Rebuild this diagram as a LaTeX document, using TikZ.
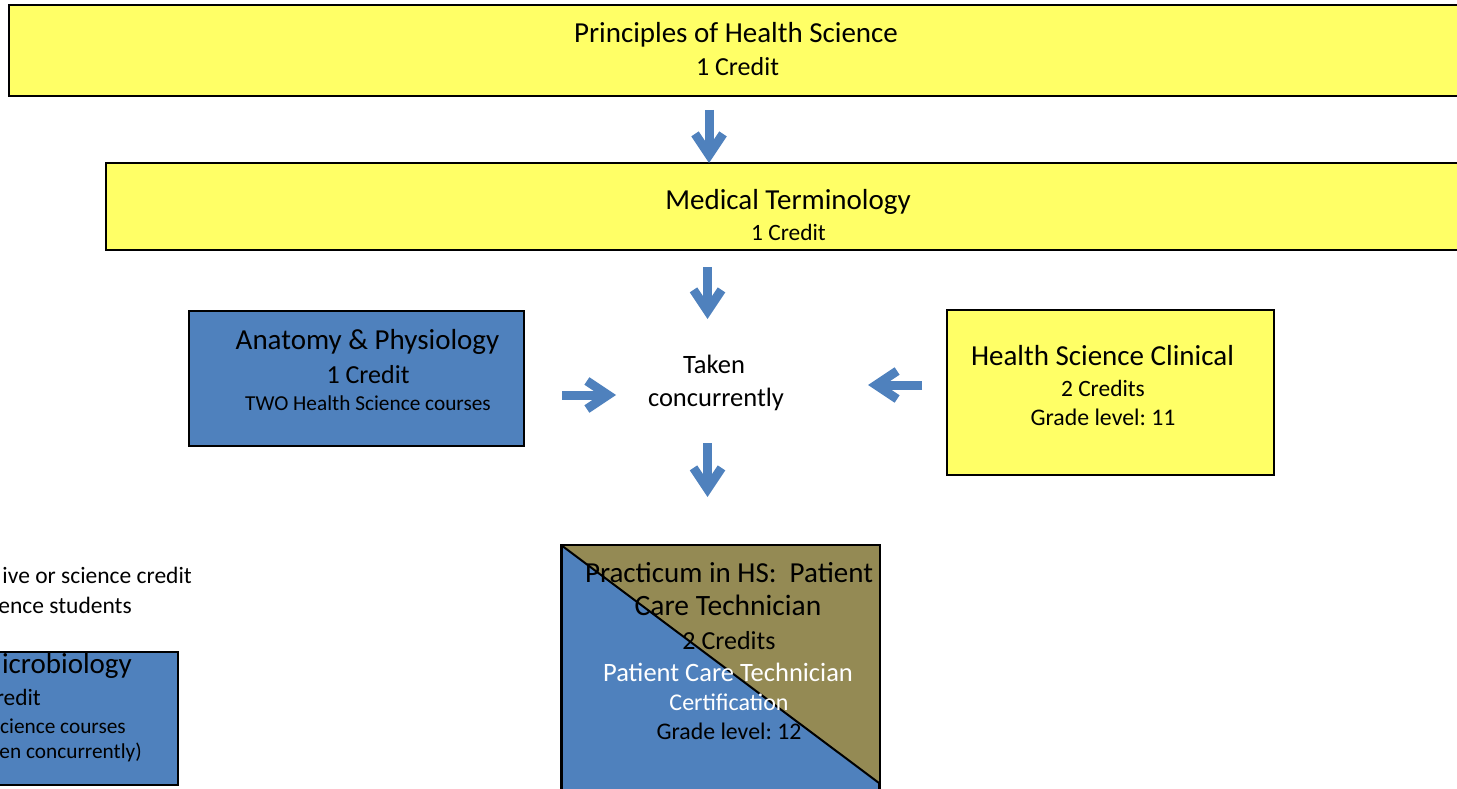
\documentclass[tikz,border=0pt]{standalone}
\usepackage{fontspec}
\setmainfont{Carlito}
\usetikzlibrary{arrows.meta,positioning}
\definecolor{hsyellow}{RGB}{255,255,102}
\definecolor{hsblue}{RGB}{79,129,189}
\definecolor{hsolive}{RGB}{148,138,84}
\newcommand{\fsz}[1]{\fontsize{#1}{#1}\selectfont}
\frenchspacing

\begin{document}
\begin{tikzpicture}[x=1pt,y=-1pt,
  box/.style={draw=black,line width=2pt,inner sep=0pt},
  txt/.style={anchor=base,inner sep=0pt},
  txtr/.style={anchor=base east,inner sep=0pt},
  flow/.style={draw=hsblue,line width=9pt,-{Straight Barb[length=21pt,width=28pt]}}]
\useasboundingbox (0,0) rectangle (1457,789);
\clip (0,0) rectangle (1457,789);
% Boxes
\node[box,fill=hsyellow,minimum width=1471,minimum height=91] (phs) at (744.5,50.5) {};
\node[box,fill=hsyellow,minimum width=1374,minimum height=87] (mt) at (793,206.5) {};
\node[box,fill=hsblue,minimum width=335,minimum height=135] (anat) at (356.5,378.5) {};
\node[box,fill=hsyellow,minimum width=327,minimum height=165] (clin) at (1110.5,392.5) {};
\node[box,fill=hsblue,minimum width=378,minimum height=133] (micro) at (-11,718.5) {};
% Practicum box, split on the diagonal
\node[box,fill=hsblue,minimum width=317,minimum height=254] (prac) at (720.5,673) {};
\coordinate (diag) at (879,783);
\fill[hsolive] (prac.north west) -- (prac.north east) -- (diag) -- cycle;
\draw[line width=2pt] (prac.north west) -- (diag);
\draw[line width=2pt] (prac.north west) rectangle (prac.south east);
% Texts
\node[txt,font=\fsz{29}] (phsname) at (736,43) {Principles of Health Science};
\node[txt,font=\fsz{26}] (phscr) at (737.5,76) {1 Credit};
\node[txt,font=\fsz{29}] (mtname) at (788,209) {Medical Terminology};
\node[txt,font=\fsz{23.4}] (mtcr) at (788.5,240) {1 Credit};
\node[txt,font=\fsz{29}] (anatname) at (367.5,349) {Anatomy \& Physiology};
\node[txt,font=\fsz{26}] (anatcr) at (368,383) {1 Credit};
\node[txt,font=\fsz{21.3}] (anatreq) at (368,410) {TWO Health Science courses};
\node[txt,font=\fsz{26.5}] (taken) at (714,373) {Taken};
\node[txt,font=\fsz{26.5}] (concur) at (716,406) {concurrently};
\node[txt,font=\fsz{29}] (clinname) at (1102.5,365) {Health Science Clinical};
\node[txt,font=\fsz{23.4}] (clincr) at (1103,396) {2 Credits};
\node[txt,font=\fsz{23.8}] (clingr) at (1103,425) {Grade level: 11};
\node[txt,font=\fsz{29}] (pracname) at (729,582) {Practicum in HS:\ \ Patient};
\node[txt,font=\fsz{29.5}] (pracname2) at (728,615) {Care Technician};
\node[txt,font=\fsz{26}] (praccr) at (729,649) {2 Credits};
\node[txt,font=\fsz{26.5},text=white] (praccert) at (728,681) {Patient Care Technician};
\node[txt,font=\fsz{24},text=white] (praccert2) at (729,710) {Certification};
\node[txt,font=\fsz{23.8}] (pracgr) at (729,739) {Grade level: 12};
% Cut-off texts at the left edge
\node[txtr,font=\fsz{23.5}] (note1) at (192,583) {ive or science credit};
\node[txtr,font=\fsz{23.5}] (note2) at (132,613) {ence students};
\node[txtr,font=\fsz{29}] (microname) at (132,673) {icrobiology};
\node[txtr,font=\fsz{23.4}] (microcr) at (41,705) {redit};
\node[txtr,font=\fsz{21.3}] (microreq) at (126,733) {cience courses};
\node[txtr,font=\fsz{21.3}] (microreq2) at (142,758) {en concurrently)};
% Arrows
\coordinate (a1s) at (709,110);    \coordinate (a1e) at (709,163);
\coordinate (a2s) at (707.5,267);  \coordinate (a2e) at (707.5,319);
\coordinate (a3s) at (562,395);    \coordinate (a3e) at (616,395);
\coordinate (a4s) at (922,385);    \coordinate (a4e) at (868,385);
\coordinate (a5s) at (707.5,443);  \coordinate (a5e) at (707.5,497);
\draw[flow] (a1s) -- (a1e);
\draw[flow] (a2s) -- (a2e);
\draw[flow] (a3s) -- (a3e);
\draw[flow] (a4s) -- (a4e);
\draw[flow] (a5s) -- (a5e);
\end{tikzpicture}
\end{document}
